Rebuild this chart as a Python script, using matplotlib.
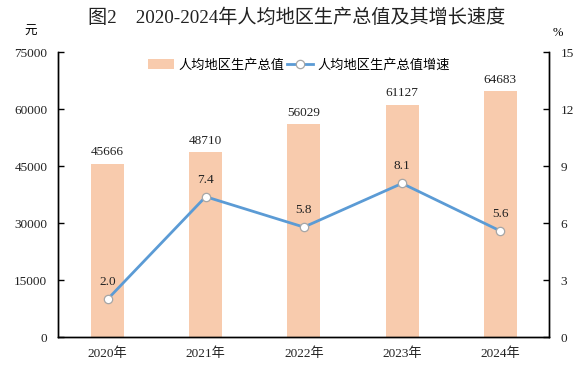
import matplotlib
matplotlib.use("Agg")
import matplotlib.pyplot as plt
from matplotlib.lines import Line2D
from matplotlib.patches import Patch

years = ["2020年", "2021年", "2022年", "2023年", "2024年"]
gdp_per_capita = [45666, 48710, 56029, 61127, 64683]
growth = [2.0, 7.4, 5.8, 8.1, 5.6]
left_ticks = [0, 15000, 30000, 45000, 60000, 75000]
right_ticks = [0, 3, 6, 9, 12, 15]

SERIF = ["Liberation Serif", "Noto Sans CJK SC"]
CJK = ["Noto Sans CJK SC", "DejaVu Sans"]
BAR_C = "#F8CBAD"
LINE_C = "#5B9BD5"

fig = plt.figure(figsize=(5.83, 3.74), dpi=100)
ax = fig.add_axes([0.1002, 0.0981, 0.9422 - 0.1002, 0.8602 - 0.0981])
ax2 = ax.twinx()

x = list(range(len(years)))
ax.bar(x, gdp_per_capita, width=0.336, color=BAR_C, zorder=1)
for xi, v in zip(x, gdp_per_capita):
    ax.annotate(f"{v}", (xi, v), xytext=(0, 4), textcoords="offset points",
                ha="center", va="bottom", fontsize=9.5, family=SERIF, color="#222222")

ax2.plot(x, growth, color=LINE_C, lw=2.0, marker="o", ms=6, mfc="white",
         mec="#A6A6A6", mew=0.9, zorder=3)
for xi, v in zip(x, growth):
    ax2.annotate(f"{v:.1f}", (xi, v), xytext=(0, 8), textcoords="offset points",
                 ha="center", va="bottom", fontsize=9.5, family=SERIF, color="#222222")

ax.set_xlim(-0.5, len(years) - 0.5)
ax.set_ylim(0, 75000)
ax2.set_ylim(0, 15)
ax.set_yticks(left_ticks)
ax2.set_yticks(right_ticks)
ax.set_xticks(x)
ax.set_xticklabels(years)

for a in (ax, ax2):
    a.spines["top"].set_visible(False)
    for s in ("left", "right", "bottom"):
        a.spines[s].set_linewidth(1.0)
ax.tick_params(axis="y", direction="in", length=4, width=1, pad=8, labelsize=9.5)
ax2.tick_params(axis="y", direction="in", length=4, width=1, pad=8, labelsize=9.5)
ax.tick_params(axis="x", length=0, pad=7, labelsize=9.5)
for lab in ax.get_yticklabels() + ax2.get_yticklabels() + ax.get_xticklabels():
    lab.set_family(SERIF)
    lab.set_color("#222222")

fig.text(0.508, 0.952, "图2　2020-2024年人均地区生产总值及其增长速度",
         ha="center", va="center", fontsize=13.8, family=SERIF, color="#222222")
fig.text(0.052, 0.915, "元", ha="center", va="center", fontsize=9, family=CJK)
fig.text(0.957, 0.912, "%", ha="center", va="center", fontsize=9, family=SERIF)

handles = [Patch(facecolor=BAR_C, edgecolor="none"),
           Line2D([], [], color=LINE_C, lw=2.0, marker="o", ms=6, mfc="white",
                  mec="#A6A6A6", mew=0.9)]
labels = ["人均地区生产总值", "人均地区生产总值增速"]
leg = ax.legend(handles, labels, loc="center", bbox_to_anchor=(0.49, 0.955),
                ncol=2, frameon=False, handlelength=2.0, handleheight=0.7,
                handletextpad=0.3, columnspacing=0.2, prop={"family": CJK, "size": 9.5})

fig.savefig("out.png", dpi=100)
